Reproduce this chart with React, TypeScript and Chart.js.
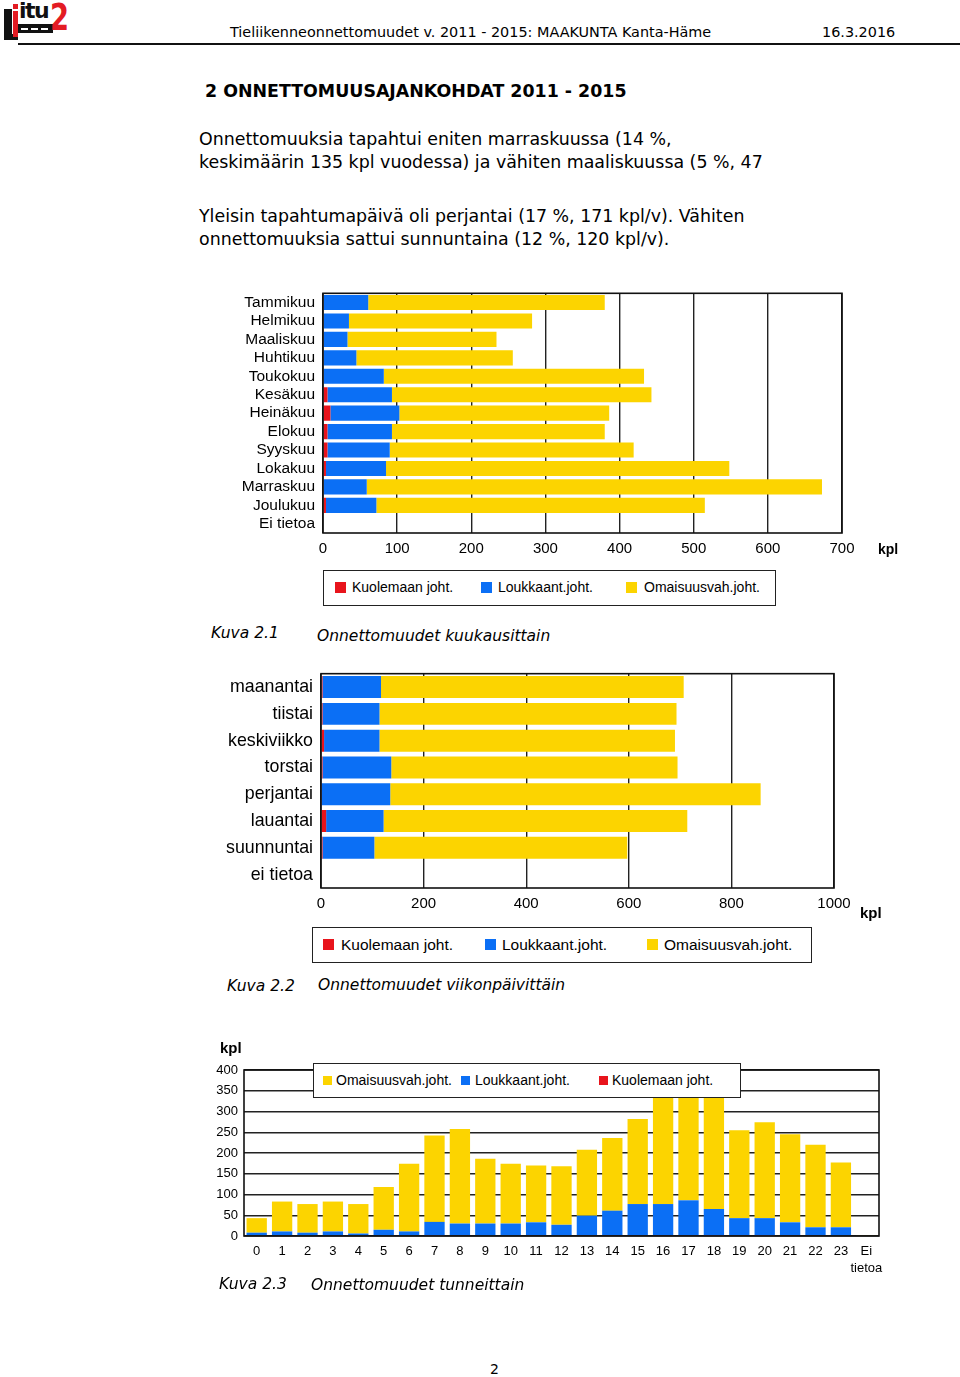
import React, { useEffect, useRef } from 'react';
import { Chart, registerables } from 'chart.js';
Chart.register(...registerables);

const RED = '#e8141c';
const BLUE = '#0b6ff5';
const YELLOW = '#fcd400';
const GRID = '#222222';
const ARIAL = "'Liberation Sans', Arial, sans-serif";
const VERDANA = "'DejaVu Sans', Verdana, sans-serif";

// Kuva 2.1 – months
const monthLabels = ['Tammikuu', 'Helmikuu', 'Maaliskuu', 'Huhtikuu', 'Toukokuu', 'Kesäkuu', 'Heinäkuu', 'Elokuu', 'Syyskuu', 'Lokakuu', 'Marraskuu', 'Joulukuu', 'Ei tietoa'];
const monthDeaths = [1, 1, 1, 1, 1, 6, 10, 6, 6, 4, 1, 4, 0];
const monthInjury = [60, 34, 32, 44, 81, 87, 93, 87, 84, 81, 58, 68, 0];
const monthProperty = [319, 247, 201, 211, 351, 350, 283, 287, 329, 463, 614, 443, 0];
const monthMax = 700;
const monthStep = 100;

// Kuva 2.2 – weekdays
const dayLabels = ['maanantai', 'tiistai', 'keskiviikko', 'torstai', 'perjantai', 'lauantai', 'suunnuntai', 'ei tietoa'];
const dayDeaths = [3, 3, 6, 3, 1, 10, 3, 0];
const dayInjury = [114, 111, 108, 134, 134, 112, 101, 0];
const dayProperty = [590, 579, 576, 558, 722, 592, 493, 0];
const dayMax = 1000;
const dayStep = 200;

// Kuva 2.3 – hours
const hourLabels: (string | string[])[] = ['0', '1', '2', '3', '4', '5', '6', '7', '8', '9', '10', '11', '12', '13', '14', '15', '16', '17', '18', '19', '20', '21', '22', '23', ['Ei', 'tietoa']];
const hourDeaths = [0, 0, 0, 0, 0, 0, 0, 1, 2, 0, 0, 2, 0, 2, 2, 2, 2, 2, 1, 2, 1, 2, 2, 0, 0];
const hourInjury = [8, 11, 8, 11, 6, 15, 11, 33, 28, 30, 30, 31, 27, 47, 59, 75, 75, 84, 64, 41, 42, 31, 19, 21, 0];
const hourProperty = [35, 72, 69, 72, 71, 103, 163, 208, 228, 156, 144, 137, 141, 159, 175, 205, 288, 299, 295, 212, 231, 212, 199, 156, 2];
const hourMax = 400;
const hourStep = 50;

const framePlugin = {
  id: 'frame',
  afterDatasetsDraw(chart: any) {
    const { ctx, chartArea: a } = chart;
    ctx.save();
    ctx.strokeStyle = '#111';
    ctx.lineWidth = 1.6;
    ctx.strokeRect(a.left, a.top, a.right - a.left, a.bottom - a.top);
    ctx.restore();
  },
};

const plainNumber = (v: any) => String(v);

type HBarProps = {
  labels: string[];
  deaths: number[];
  injury: number[];
  property: number[];
  max: number;
  step: number;
  left: number;
  top: number;
  width: number;
  height: number;
  axisW: number;
  axisH: number;
  padRight: number;
  catFont: number;
  tickFont: number;
};

function HBar(p: HBarProps) {
  const ref = useRef<HTMLCanvasElement>(null);
  useEffect(() => {
    if (!ref.current) return;
    const chart = new Chart(ref.current, {
      type: 'bar',
      data: {
        labels: p.labels,
        datasets: [
          { label: 'Kuolemaan joht.', data: p.deaths, backgroundColor: RED, barPercentage: 0.82, categoryPercentage: 1 },
          { label: 'Loukkaant.joht.', data: p.injury, backgroundColor: BLUE, barPercentage: 0.82, categoryPercentage: 1 },
          { label: 'Omaisuusvah.joht.', data: p.property, backgroundColor: YELLOW, barPercentage: 0.82, categoryPercentage: 1 },
        ],
      },
      options: {
        indexAxis: 'y',
        responsive: false,
        animation: false,
        layout: { padding: { top: 0, right: p.padRight, left: 0, bottom: 0 } },
        plugins: { legend: { display: false }, tooltip: { enabled: false } },
        scales: {
          x: {
            type: 'linear',
            stacked: true,
            min: 0,
            max: p.max,
            ticks: { stepSize: p.step, callback: plainNumber, color: '#000', font: { family: ARIAL, size: p.tickFont }, padding: 7, maxRotation: 0 },
            grid: { color: GRID, lineWidth: 1.4, drawTicks: false },
            border: { display: false },
            afterFit: (s: any) => { s.height = p.axisH; },
          },
          y: {
            type: 'category',
            stacked: true,
            ticks: { color: '#000', font: { family: ARIAL, size: p.catFont }, padding: 8, autoSkip: false },
            grid: { display: false, drawTicks: false },
            border: { display: false },
            afterFit: (s: any) => { s.width = p.axisW; },
          },
        },
      },
      plugins: [framePlugin],
    } as any);
    return () => chart.destroy();
  }, []);
  return (
    <canvas
      ref={ref}
      width={p.width}
      height={p.height}
      style={{ position: 'absolute', left: p.left, top: p.top, width: p.width, height: p.height }}
    />
  );
}

function HourChart() {
  const ref = useRef<HTMLCanvasElement>(null);
  useEffect(() => {
    if (!ref.current) return;
    const chart = new Chart(ref.current, {
      type: 'bar',
      data: {
        labels: hourLabels,
        datasets: [
          { label: 'Kuolemaan joht.', data: hourDeaths, backgroundColor: RED, barPercentage: 0.8, categoryPercentage: 1 },
          { label: 'Loukkaant.joht.', data: hourInjury, backgroundColor: BLUE, barPercentage: 0.8, categoryPercentage: 1 },
          { label: 'Omaisuusvah.joht.', data: hourProperty, backgroundColor: YELLOW, barPercentage: 0.8, categoryPercentage: 1 },
        ],
      },
      options: {
        responsive: false,
        animation: false,
        layout: { padding: { top: 15, right: 31, left: 0, bottom: 0 } },
        plugins: { legend: { display: false }, tooltip: { enabled: false } },
        scales: {
          x: {
            type: 'category',
            stacked: true,
            ticks: { color: '#000', font: { family: ARIAL, size: 13, lineHeight: 1.3 }, padding: 7, autoSkip: false, maxRotation: 0, minRotation: 0 },
            grid: { display: false, drawTicks: false },
            border: { display: false },
            afterFit: (s: any) => { s.height = 49; },
          },
          y: {
            type: 'linear',
            stacked: true,
            min: 0,
            max: hourMax,
            ticks: { stepSize: hourStep, callback: plainNumber, color: '#000', font: { family: ARIAL, size: 13 }, padding: 6 },
            grid: { color: GRID, lineWidth: 1.4, drawTicks: false },
            border: { display: false },
            afterFit: (s: any) => { s.width = 54; },
          },
        },
      },
      plugins: [framePlugin],
    } as any);
    return () => chart.destroy();
  }, []);
  return (
    <canvas ref={ref} width={720} height={230} style={{ position: 'absolute', left: 190, top: 1055, width: 720, height: 230 }} />
  );
}

type LegendItem = { color: string; text: string; sq: number; tx: number };

function Legend({ left, top, width, height, size, font, items }: { left: number; top: number; width: number; height: number; size: number; font: number; items: LegendItem[] }) {
  return (
    <div style={{ position: 'absolute', left, top, width, height, border: '1.5px solid #222', background: '#fff', boxSizing: 'border-box', fontFamily: ARIAL, fontSize: font, color: '#000' }}>
      {items.map((it, i) => (
        <React.Fragment key={i}>
          <div style={{ position: 'absolute', left: it.sq, top: (height - 3 - size) / 2, width: size, height: size, background: it.color }} />
          <div style={{ position: 'absolute', left: it.tx, top: 0, height: height - 3, lineHeight: `${height - 3}px`, whiteSpace: 'nowrap' }}>{it.text}</div>
        </React.Fragment>
      ))}
    </div>
  );
}

const txt = (left: number, top: number, text: string, style: React.CSSProperties = {}) => (
  <div style={{ position: 'absolute', left, top, whiteSpace: 'nowrap', ...style }}>{text}</div>
);

const box = (left: number, top: number, width: number, height: number, background: string) => (
  <div style={{ position: 'absolute', left, top, width, height, background }} />
);

export default function App() {
  useEffect(() => {
    document.body.style.margin = '0';
  }, []);
  const para: React.CSSProperties = { fontFamily: VERDANA, fontSize: 17.4, lineHeight: '23px', color: '#000' };
  const cap: React.CSSProperties = { fontFamily: VERDANA, fontSize: 15.5, fontStyle: 'italic', lineHeight: '20px', color: '#000' };
  const kpl: React.CSSProperties = { fontFamily: ARIAL, fontWeight: 'bold', fontSize: 14, lineHeight: '16px', color: '#000' };
  const LOGO_RED = '#e31b23';
  return (
    <div style={{ position: 'absolute', left: 0, top: 0, width: 960, height: 1377, overflow: 'hidden', background: '#fff' }}>
      {/* logo */}
      {box(4, 9, 8, 31, '#111')}
      {box(4, 34, 14, 6, '#111')}
      {box(13, 4, 5, 5, LOGO_RED)}
      {box(13, 11, 5, 26, LOGO_RED)}
      <div style={{ position: 'absolute', left: 19, top: -2, fontFamily: VERDANA, fontWeight: 'bold', fontSize: 22, lineHeight: '26px', color: '#111', letterSpacing: -1.5 }}>itu</div>
      {box(18, 24, 35, 9, '#111')}
      {box(21, 28, 7, 2, '#fff')}
      {box(31, 28, 7, 2, '#fff')}
      {box(41, 28, 7, 2, '#fff')}
      <div style={{ position: 'absolute', left: 50, top: -4, fontFamily: VERDANA, fontWeight: 'bold', fontSize: 38, lineHeight: '42px', color: LOGO_RED, transform: 'scaleX(0.72)', transformOrigin: 'left top' }}>2</div>

      {txt(230, 23, 'Tieliikenneonnettomuudet v. 2011 - 2015: MAAKUNTA Kanta-Häme', { fontFamily: VERDANA, fontSize: 14.4, lineHeight: '18px' })}
      {txt(822, 23, '16.3.2016', { fontFamily: VERDANA, fontSize: 14.4, lineHeight: '18px' })}
      {box(18, 43, 942, 2, '#111')}

      {txt(205, 80, '2 ONNETTOMUUSAJANKOHDAT 2011 - 2015', { fontFamily: VERDANA, fontWeight: 'bold', fontSize: 17.4, lineHeight: '22px' })}
      {txt(199, 128, 'Onnettomuuksia tapahtui eniten marraskuussa (14 %,', para)}
      {txt(199, 151, 'keskimäärin 135 kpl vuodessa) ja vähiten maaliskuussa (5 %, 47', para)}
      {txt(199, 205, 'Yleisin tapahtumapäivä oli perjantai (17 %, 171 kpl/v). Vähiten', para)}
      {txt(199, 228, 'onnettomuuksia sattui sunnuntaina (12 %, 120 kpl/v).', para)}

      <HBar labels={monthLabels} deaths={monthDeaths} injury={monthInjury} property={monthProperty} max={monthMax} step={monthStep}
        left={200} top={276} width={720} height={304} axisW={123} axisH={47} padRight={78} catFont={15.5} tickFont={15} />
      {txt(878, 541, 'kpl', kpl)}
      <Legend left={323} top={570} width={453} height={36} size={11} font={14}
        items={[
          { color: RED, text: 'Kuolemaan joht.', sq: 11, tx: 28 },
          { color: BLUE, text: 'Loukkaant.joht.', sq: 157, tx: 174 },
          { color: YELLOW, text: 'Omaisuusvah.joht.', sq: 302, tx: 320 },
        ]} />
      {txt(211, 623, 'Kuva 2.1', cap)}
      {txt(317, 626, 'Onnettomuudet kuukausittain', cap)}

      <HBar labels={dayLabels} deaths={dayDeaths} injury={dayInjury} property={dayProperty} max={dayMax} step={dayStep}
        left={200} top={655} width={720} height={276} axisW={121} axisH={43} padRight={86} catFont={17.8} tickFont={15} />
      {txt(860, 905, 'kpl', { ...kpl, fontSize: 15 })}
      <Legend left={312} top={927} width={500} height={36} size={11} font={15.5}
        items={[
          { color: RED, text: 'Kuolemaan joht.', sq: 10, tx: 28 },
          { color: BLUE, text: 'Loukkaant.joht.', sq: 172, tx: 189 },
          { color: YELLOW, text: 'Omaisuusvah.joht.', sq: 334, tx: 351 },
        ]} />
      {txt(227, 976, 'Kuva 2.2', cap)}
      {txt(318, 975, 'Onnettomuudet viikonpäivittäin', cap)}

      <HourChart />
      {txt(220, 1040, 'kpl', { ...kpl, fontSize: 15 })}
      <Legend left={313} top={1063} width={428} height={35} size={9} font={14}
        items={[
          { color: YELLOW, text: 'Omaisuusvah.joht.', sq: 9, tx: 22 },
          { color: BLUE, text: 'Loukkaant.joht.', sq: 147, tx: 161 },
          { color: RED, text: 'Kuolemaan joht.', sq: 285, tx: 298 },
        ]} />
      {txt(219, 1274, 'Kuva 2.3', cap)}
      {txt(311, 1275, 'Onnettomuudet tunneittain', cap)}

      {txt(490, 1360, '2', { fontFamily: VERDANA, fontSize: 14, lineHeight: '18px' })}
    </div>
  );
}
